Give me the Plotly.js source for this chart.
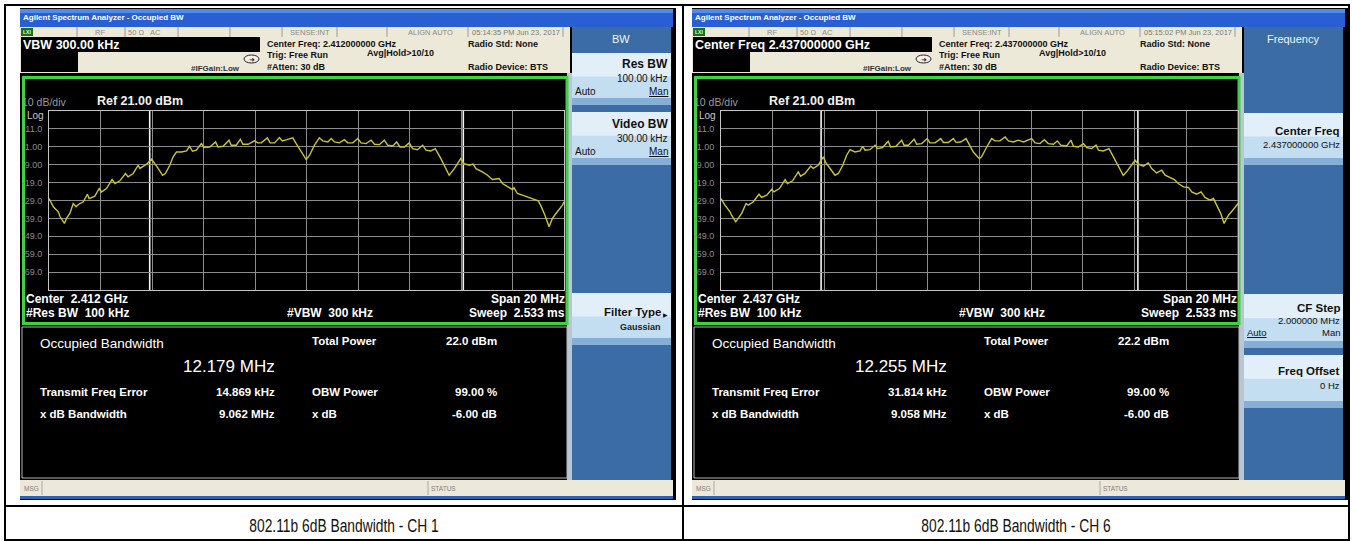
<!DOCTYPE html>
<html><head><meta charset="utf-8">
<script src="https://cdn.plot.ly/plotly-3.0.1.min.js"></script>
<style>html,body{margin:0;padding:0;background:#fff;overflow:hidden}#chart{width:1352px;height:541px}</style>
</head><body><div id="chart"></div>
<script>
// ---------------- DATA ----------------
const ch1FreqOffsetMHz = [-10.0,-9.83,-9.64,-9.57,-9.40,-9.32,-9.19,-9.06,-8.95,-8.86,-8.67,-8.51,-8.44,-8.22,-8.05,-7.96,-7.77,-7.55,-7.44,-7.25,-7.03,-6.93,-6.73,-6.54,-6.47,-6.21,-6.02,-5.89,-5.76,-5.59,-5.48,-5.31,-5.18,-5.05,-4.86,-4.66,-4.54,-4.43,-4.28,-4.08,-3.99,-3.76,-3.53,-3.44,-3.24,-3.01,-2.92,-2.73,-2.57,-2.47,-2.27,-2.02,-1.89,-1.76,-1.52,-1.41,-1.24,-1.05,-0.94,-0.76,-0.53,-0.40,-0.21,-0.01,0.12,0.31,0.50,0.63,0.83,0.96,1.09,1.28,1.47,1.60,1.80,1.99,2.12,2.31,2.51,2.64,2.83,3.02,3.15,3.35,3.50,3.63,3.80,3.99,4.12,4.31,4.51,4.64,4.83,5.00,5.22,5.41,5.54,5.74,5.99,6.12,6.32,6.47,6.58,6.83,7.03,7.22,7.48,7.61,7.80,8.00,8.06,8.19,8.38,8.58,8.80,9.00,9.09,9.26,9.42,9.55,9.74,9.94,10.0];
const ch1LevelDBm = [-27.9,-32.5,-35.3,-38.1,-41.8,-39.0,-36.2,-30.7,-32.5,-31.2,-29.7,-25.5,-27.9,-26.6,-22.3,-24.2,-22.3,-17.3,-19.5,-18.0,-13.9,-15.8,-13.9,-9.3,-11.1,-8.7,-5.9,-8.4,-11.1,-14.9,-13.9,-9.3,-4.6,-1.9,-1.9,-1.3,1.3,-1.5,-0.9,2.8,0.6,0.9,3.7,0.9,1.3,4.7,1.9,1.9,5.2,2.4,2.4,4.3,3.2,3.2,6.0,3.2,3.2,6.2,4.3,5.0,6.0,2.8,-1.9,-6.1,-3.7,1.9,6.0,4.3,3.7,5.6,3.7,3.2,5.0,3.2,3.2,5.6,3.2,2.8,4.7,2.4,2.2,4.7,1.9,1.5,3.7,0.9,0.9,3.2,0.0,-0.6,1.9,-0.9,-1.3,0.0,-5.6,-11.2,-14.9,-11.2,-5.6,-8.4,-9.3,-8.7,-11.2,-13.0,-14.9,-17.3,-16.7,-19.5,-21.4,-22.9,-21.9,-25.1,-26.0,-27.0,-27.9,-29.2,-31.6,-37.2,-43.7,-39.0,-35.3,-31.6,-29.7];
const ch6FreqOffsetMHz = [-10.0,-9.85,-9.65,-9.59,-9.43,-9.33,-9.20,-9.03,-8.94,-8.75,-8.53,-8.43,-8.23,-8.04,-7.95,-7.74,-7.52,-7.43,-7.23,-7.01,-6.92,-6.75,-6.53,-6.43,-6.24,-6.04,-5.94,-5.78,-5.59,-5.46,-5.29,-5.14,-5.01,-4.82,-4.62,-4.52,-4.43,-4.24,-4.04,-3.95,-3.75,-3.53,-3.44,-3.23,-3.01,-2.92,-2.75,-2.53,-2.43,-2.24,-2.02,-1.92,-1.72,-1.50,-1.40,-1.21,-1.01,-0.91,-0.73,-0.52,-0.39,-0.24,-0.01,0.08,0.28,0.47,0.60,0.79,0.99,1.12,1.31,1.50,1.70,2.02,2.15,2.34,2.51,2.66,2.86,3.01,3.14,3.37,3.54,3.63,3.82,4.02,4.15,4.34,4.51,4.60,4.79,5.01,5.18,5.37,5.56,5.69,5.85,6.02,6.14,6.34,6.53,6.66,6.85,7.05,7.18,7.37,7.54,7.69,7.89,8.08,8.21,8.40,8.57,8.72,8.92,9.05,9.17,9.33,9.46,9.56,9.63,9.82,10.0];
const ch6LevelDBm = [-27.9,-31.6,-35.3,-37.2,-40.9,-39.0,-36.2,-30.7,-31.6,-29.7,-25.5,-27.3,-26.0,-22.7,-24.2,-22.3,-17.3,-19.5,-18.0,-13.0,-15.4,-13.9,-9.8,-11.1,-9.3,-4.6,-8.0,-11.1,-14.9,-13.9,-9.3,-3.7,-0.6,-1.9,-1.3,1.3,-0.9,-0.6,1.9,0.0,0.6,4.1,0.9,1.3,4.7,1.9,1.9,5.2,2.4,2.8,5.6,3.2,3.2,5.6,3.4,3.4,5.6,3.5,3.7,5.6,1.9,-1.9,-5.6,-4.6,0.9,5.6,4.3,4.3,6.5,4.3,3.7,4.7,3.7,5.6,3.2,2.8,5.0,2.8,2.4,4.3,1.9,1.5,4.7,1.3,0.9,2.8,0.6,0.0,1.9,-0.9,-1.3,0.0,-4.6,-10.2,-14.9,-13.0,-9.8,-6.5,-8.7,-9.8,-8.0,-11.2,-13.6,-12.1,-14.9,-16.2,-17.3,-19.5,-21.4,-21.7,-24.2,-25.5,-24.2,-27.3,-28.8,-27.9,-31.6,-36.2,-41.8,-39.0,-37.2,-34.0,-30.7];

const yTickVals = [11, 1, -9, -19, -29, -39, -49, -59, -69];
const yTickText = ['11.0', '1.00', '-9.00', '-19.0', '-29.0', '-39.0', '-49.0', '-59.0', '-69.0'];

const captions = ['802.11b 6dB Bandwidth - CH 1', '802.11b 6dB Bandwidth - CH 6'];
const headlines = ['VBW 300.00 kHz', 'Center Freq 2.437000000 GHz'];
const centerFreqText = ['2.412000000 GHz', '2.437000000 GHz'];
const centerShort = ['2.412 GHz', '2.437 GHz'];
const timestamps = ['05:14:35 PM Jun 23, 2017', '05:15:02 PM Jun 23, 2017'];
const menuTitles = ['BW', 'Frequency'];
const occupiedBWMHz = [12.179, 12.255];
const totalPower = ['22.0 dBm', '22.2 dBm'];
const freqError = ['14.869 kHz', '31.814 kHz'];
const xdBBandwidth = ['9.062 MHz', '9.058 MHz'];
const obwPower = ['99.00 %', '99.00 %'];
const xdBValue = ['-6.00 dB', '-6.00 dB'];

// ---------------- LAYOUT HELPERS ----------------
const W = 1352, H = 541;
const FONT = 'Liberation Sans, Arial, sans-serif';
const NARROW = 'Liberation Sans Narrow, Arial Narrow, Liberation Sans, sans-serif';
const px = x => x / W, py = y => 1 - y / H;
const shapes = [], annotations = [];
function R(x0, y0, x1, y1, fill, lc, lw, layer) {
  shapes.push({type: 'rect', xref: 'paper', yref: 'paper', x0: px(x0), x1: px(x1), y0: py(y1), y1: py(y0),
    fillcolor: fill || 'rgba(0,0,0,0)', line: {color: lc || 'rgba(0,0,0,0)', width: lw || 0}, layer: layer || 'below'});
}
function L(x0, y0, x1, y1, c, w, layer) {
  shapes.push({type: 'line', xref: 'paper', yref: 'paper', x0: px(x0), x1: px(x1), y0: py(y0), y1: py(y1),
    line: {color: c, width: w || 1}, layer: layer || 'below'});
}
function T(x, y, text, size, color, anchor, bold, family) {
  annotations.push({xref: 'paper', yref: 'paper', x: px(x), y: py(y), text: bold ? '<b>' + text + '</b>' : text,
    showarrow: false, xanchor: anchor || 'left', yanchor: 'middle', align: anchor || 'left',
    font: {size: size, color: color, family: family || FONT}, borderpad: 0, borderwidth: 0});
}
function key(dx, y0, y1) {
  R(572 + dx, y0, 671 + dx, y1, '#c3ddf1');
  R(572 + dx, y0, 671 + dx, y0 + (y1 - y0) * 0.45, '#e2eff9');
  R(572 + dx, y1 - 7, 671 + dx, y1, '#86afd8');
}

function buildScreen(i, dx) {
  const X = x => x + dx;
  R(X(20), 8, X(676), 500, '#000');
  R(X(20), 9, X(673), 27, '#2860d4');
  R(X(20), 9, X(673), 13, '#4f8cee');
  T(X(23), 18, 'Agilent Spectrum Analyzer - Occupied BW', 8, '#fff', 'left', true);
  R(X(20), 27, X(570), 37, '#ece9d8');
  R(X(21), 28, X(33), 36, '#1d6e1d');
  T(X(27), 32.3, 'LXI', 5, '#cfe', 'center', true);
  [77, 125, 178, 230, 282, 337, 387, 468, 563].forEach(x => L(X(x), 27, X(x), 37, '#9a9a9a', 1));
  T(X(100), 32.5, 'RF', 7.5, '#8a8a8a', 'center');
  T(X(136), 32.5, '50 Ω', 7.5, '#8a8a8a', 'center');
  T(X(155), 32.5, 'AC', 7.5, '#8a8a8a', 'center');
  T(X(310), 32.5, 'SENSE:INT', 7.5, '#8a8a8a', 'center');
  T(X(430), 32.5, 'ALIGN AUTO', 7.5, '#8a8a8a', 'center');
  T(X(516), 32.5, timestamps[i], 7.5, '#7a7a7a', 'center');
  R(X(20), 37, X(570), 73, '#ece9d8');
  R(X(21), 37, X(260), 52, '#000');
  R(X(21), 52, X(78), 72, '#000');
  T(X(23), 44.5, headlines[i], 12.5, '#fff', 'left', true);
  T(X(267), 44, 'Center Freq: ' + centerFreqText[i], 9, '#111', 'left', true);
  T(X(267), 55.5, 'Trig: Free Run', 9, '#111', 'left', true);
  T(X(267), 67, '#Atten: 30 dB', 9, '#111', 'left', true);
  T(X(367), 53, 'Avg|Hold&gt;10/10', 9, '#111', 'left', true);
  T(X(468), 44, 'Radio Std: None', 9, '#111', 'left', true);
  T(X(468), 67, 'Radio Device: BTS', 9, '#111', 'left', true);
  T(X(240), 68, '#IFGain:Low', 8, '#333', 'right', true);
  shapes.push({type: 'circle', xref: 'paper', yref: 'paper', x0: px(X(244)), x1: px(X(259)), y0: py(63), y1: py(55),
    fillcolor: '#f4f2ea', line: {color: '#222', width: 1}, layer: 'below'});
  T(X(252), 60, '➜', 7, '#111', 'center');
  R(X(20), 73, X(570), 480, '#000');
  R(X(567), 73, X(572), 480, '#b9c6d3');
  R(X(23.5), 77.5, X(567), 323.5, null, '#3fd13f', 3);
  T(X(22), 101.5, '10 dB/div', 10.5, '#9a9a9a', 'left');
  T(X(97), 100.5, 'Ref 21.00 dBm', 12.5, '#f2f2f2', 'left', true);
  T(X(27), 115, 'Log', 10, '#c8c8c8', 'left');
  T(X(26), 299, 'Center  ' + centerShort[i], 12, '#fff', 'left', true);
  T(X(26), 313, '#Res BW  100 kHz', 12, '#fff', 'left', true);
  T(X(287), 313, '#VBW  300 kHz', 12, '#fff', 'left', true);
  T(X(565), 299, 'Span 20 MHz', 12, '#fff', 'right', true);
  T(X(565), 313, 'Sweep  2.533 ms', 12, '#fff', 'right', true);
  R(X(22), 327, X(567), 478, '#000', '#b5b5b5', 1);
  T(X(40), 343, 'Occupied Bandwidth', 13.5, '#fff', 'left');
  T(X(275), 366, occupiedBWMHz[i].toFixed(3) + ' MHz', 17, '#fff', 'right');
  T(X(312), 341, 'Total Power', 11.5, '#fff', 'left', true);
  T(X(497), 341, totalPower[i], 11.5, '#fff', 'right', true);
  T(X(40), 392, 'Transmit Freq Error', 11.5, '#fff', 'left', true);
  T(X(275), 392, freqError[i], 11.5, '#fff', 'right', true);
  T(X(312), 392, 'OBW Power', 11.5, '#fff', 'left', true);
  T(X(497), 392, obwPower[i], 11.5, '#fff', 'right', true);
  T(X(40), 414, 'x dB Bandwidth', 11.5, '#fff', 'left', true);
  T(X(275), 414, xdBBandwidth[i], 11.5, '#fff', 'right', true);
  T(X(312), 414, 'x dB', 11.5, '#fff', 'left', true);
  T(X(497), 414, xdBValue[i], 11.5, '#fff', 'right', true);
  R(X(572), 27, X(671), 480, '#3b6ca6');
  T(X(621), 38.5, menuTitles[i], 11, '#f0f4fa', 'center');
  if (i === 0) {
    key(dx, 53, 105);
    T(X(668), 64, 'Res BW', 12, '#111', 'right', true);
    T(X(668), 78, '100.00 kHz', 10, '#111', 'right');
    T(X(575), 91, 'Auto', 10, '#111', 'left');
    T(X(668), 91, '<u>Man</u>', 10, '#111', 'right');
    key(dx, 112, 165);
    T(X(668), 124, 'Video BW', 12, '#111', 'right', true);
    T(X(668), 138, '300.00 kHz', 10, '#111', 'right');
    T(X(575), 151, 'Auto', 10, '#111', 'left');
    T(X(668), 151, '<u>Man</u>', 10, '#111', 'right');
    key(dx, 293, 345);
    T(X(661), 312, 'Filter Type', 11.5, '#111', 'right', true);
    T(X(668), 315, '▶', 6, '#111', 'right');
    T(X(661), 327, 'Gaussian', 9, '#222', 'right', true);
  } else {
    key(dx, 113, 165);
    T(X(668), 131, 'Center Freq', 11.5, '#111', 'right', true);
    T(X(668), 144, centerFreqText[i], 9.5, '#111', 'right');
    key(dx, 294, 348);
    T(X(668), 308, 'CF Step', 11.5, '#111', 'right', true);
    T(X(668), 320, '2.000000 MHz', 9.5, '#111', 'right');
    T(X(575), 332, '<u>Auto</u>', 9.5, '#111', 'left');
    T(X(668), 332, 'Man', 9.5, '#111', 'right');
    key(dx, 355, 408);
    T(X(668), 371, 'Freq Offset', 11.5, '#111', 'right', true);
    T(X(668), 385, '0 Hz', 9.5, '#111', 'right');
  }
  R(X(20), 480, X(673), 496, '#ece9d8');
  L(X(42), 481, X(42), 495, '#a8a8a8', 1);
  L(X(428), 481, X(428), 495, '#a8a8a8', 1);
  T(X(24), 488, 'MSG', 6.5, '#808080', 'left');
  T(X(431), 488, 'STATUS', 6.5, '#808080', 'left');
  R(X(20), 496, X(673), 499, '#2f5fb0');
  T(X(344), 526, captions[i], 17.5, '#111', 'center', false, NARROW);
}

buildScreen(0, 0);
buildScreen(1, 672);

[['x', 'y', occupiedBWMHz[0]], ['x2', 'y2', occupiedBWMHz[1]]].forEach(([xr, yr, bw]) => {
  [-bw / 2, bw / 2].forEach(f => shapes.push({type: 'line', xref: xr, yref: yr, x0: f, x1: f, y0: -79, y1: 21,
    line: {color: '#f4f4f4', width: 1.6}, layer: 'below'}));
});

R(5, 5, 1349, 540, null, '#000', 2, 'above');
L(683, 5, 683, 540, '#000', 2, 'above');
L(5, 506, 1349, 506, '#000', 2, 'above');

function specX(domain, anchor) {
  return {domain: domain, anchor: anchor, range: [-10, 10], showgrid: true, gridcolor: '#8c8c8c', gridwidth: 1,
    tick0: -10, dtick: 2, showticklabels: false, ticks: '', zeroline: false, showline: true, linecolor: '#c4c4c4',
    linewidth: 1, mirror: true, fixedrange: true};
}
function specY(domain, anchor) {
  return {domain: domain, anchor: anchor, range: [-79, 21], tickmode: 'array', tickvals: yTickVals, ticktext: yTickText,
    showgrid: true, gridcolor: '#8c8c8c', gridwidth: 1, zeroline: false, showline: true, linecolor: '#c4c4c4',
    linewidth: 1, mirror: true, ticks: '', ticklabelstandoff: 4,
    tickfont: {size: 9, color: '#8a8a8a', family: NARROW}, fixedrange: true};
}

const traces = [
  {type: 'scatter', mode: 'lines', x: ch1FreqOffsetMHz, y: ch1LevelDBm, xaxis: 'x', yaxis: 'y',
    line: {color: '#cbc434', width: 1.4}, hoverinfo: 'skip'},
  {type: 'scatter', mode: 'lines', x: ch6FreqOffsetMHz, y: ch6LevelDBm, xaxis: 'x2', yaxis: 'y2',
    line: {color: '#cbc434', width: 1.4}, hoverinfo: 'skip'}
];

const layout = {
  width: W, height: H, autosize: false, margin: {l: 0, r: 0, t: 0, b: 0, pad: 0},
  paper_bgcolor: '#ffffff', plot_bgcolor: 'rgba(0,0,0,0)', showlegend: false,
  xaxis: specX([px(49), px(564)], 'y'),
  yaxis: specY([py(290), py(111)], 'x'),
  xaxis2: specX([px(721), px(1238)], 'y2'),
  yaxis2: specY([py(290), py(111)], 'x2'),
  shapes: shapes, annotations: annotations
};
Plotly.newPlot('chart', traces, layout, {staticPlot: true, displayModeBar: false}).then(gd => {
  // condense the caption text horizontally (narrow face look)
  gd.querySelectorAll('.annotation-text').forEach(t => {
    if (captions.indexOf(t.textContent) >= 0) {
      t.style.transformBox = 'fill-box';
      t.style.transformOrigin = 'center';
      t.style.transform = 'scaleX(0.79)';
    }
  });
});
</script></body></html>
